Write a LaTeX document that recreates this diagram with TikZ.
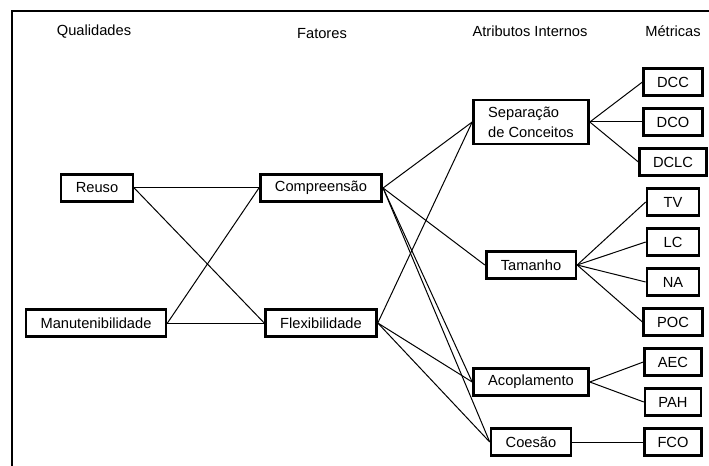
\documentclass[tikz,border=0pt]{standalone}
\usepackage{fontspec}
\setmainfont{Liberation Sans}

\tikzset{
  caixa/.style={draw, line width=2pt, inner xsep=11pt, minimum height=20.5pt,
                font=\fontsize{11}{15}\selectfont},
  metrica/.style={caixa, inner xsep=10pt, minimum width=39pt},
  titulo/.style={font=\fontsize{11}{13}\selectfont},
  liga/.style={line width=0.75pt}
}

\begin{document}
\begin{tikzpicture}[x=0.75pt,y=-0.75pt]

\useasboundingbox (0,0) rectangle (709,466);
\draw[line width=0.9pt] (12,466) -- (12,11) -- (709,11);

% titulos das colunas
\node[titulo] (tQual) at (94,32)  {Qualidades};
\node[titulo] (tFat)  at (322,34) {Fatores};
\node[titulo] (tAtr)  at (530,31) {Atributos Internos};
\node[titulo] (tMet)  at (673,31) {Métricas};

% qualidades e fatores
\node[caixa] (reuso) at (97,188)  {Reuso};
\node[caixa] (manut) at (96,323)  {Manutenibilidade};
\node[caixa] (compr) at (321,188) {Compreensão};
\node[caixa] (flexi) at (321,323) {Flexibilidade};

% atributos internos
\node[caixa, align=left, inner ysep=5pt] (separ) at (531,122) {Separação\\de Conceitos};
\node[caixa] (taman) at (531,265) {Tamanho};
\node[caixa] (acopl) at (531,382) {Acoplamento};
\node[caixa] (coesa) at (531,442) {Coesão};

% metricas
\foreach \nome/\yy in {DCC/82,DCO/122,DCLC/162,TV/202,LC/242,NA/282,POC/322,AEC/362,PAH/402,FCO/442}
  \node[metrica] (\nome) at (673,\yy) {\nome};

% ligacoes
\draw[liga] (reuso.east) -- (compr.west);
\draw[liga] (reuso.east) -- (flexi.west);
\draw[liga] (manut.east) -- (compr.west);
\draw[liga] (manut.east) -- (flexi.west);

\foreach \alvo in {separ,taman,acopl,coesa}
  \draw[liga] (compr.east) -- (\alvo.west);
\foreach \alvo in {separ,acopl,coesa}
  \draw[liga] (flexi.east) -- (\alvo.west);

\foreach \alvo in {DCC,DCO,DCLC}
  \draw[liga] (separ.east) -- (\alvo.west);
\foreach \alvo in {TV,LC,NA,POC}
  \draw[liga] (taman.east) -- (\alvo.west);
\foreach \alvo in {AEC,PAH}
  \draw[liga] (acopl.east) -- (\alvo.west);
\draw[liga] (coesa.east) -- (FCO.west);

\end{tikzpicture}
\end{document}
